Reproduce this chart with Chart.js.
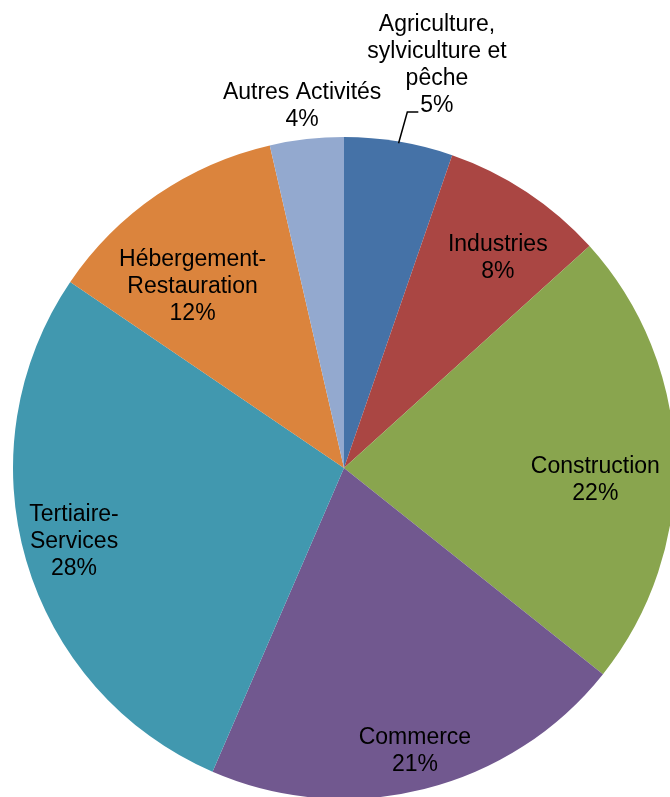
<!DOCTYPE html>
<html lang="fr">
<head>
<meta charset="utf-8">
<title>Répartition par secteur d'activité</title>
<script src="https://cdn.jsdelivr.net/npm/chart.js@4/dist/chart.umd.min.js"></script>
<style>
  html, body { margin: 0; padding: 0; background: #ffffff; }
  #wrap { position: relative; width: 670px; height: 797px; overflow: hidden; }
  canvas { display: block; }
</style>
</head>
<body>
<div id="wrap"><canvas id="pie" width="670" height="797"></canvas></div>
<script>
// Sectors, each given as the lines its label is printed on
const sectors = [
  ['Agriculture,', 'sylviculture et', 'pêche'],
  ['Industries'],
  ['Construction'],
  ['Commerce'],
  ['Tertiaire-', 'Services'],
  ['Hébergement-', 'Restauration'],
  ['Autres Activités']
];

// Share of each sector (%)
const shares = [5.3, 8.0, 22.4, 20.8, 28.0, 11.9, 3.6];

const sliceColors = ['#4572A7', '#AA4643', '#89A54E', '#71588F', '#4198AF', '#DB843D', '#93A9CF'];

// Where each label block sits: fraction of the radius along the slice's
// middle angle, and a small angular nudge in degrees (clockwise)
const labelPlacement = [
  { f: 1.254, d: 3.4, leader: true },
  { f: 0.789, d: 2.6 },
  { f: 0.760, d: 4.2 },
  { f: 0.877, d: -0.1 },
  { f: 0.844, d: 1.3 },
  { f: 0.718, d: -5.2 },
  { f: 1.104, d: -0.1 }
];

const FONT_SIZE = 23;
const LINE_GAP = 27;

const sliceLabels = {
  id: 'sliceLabels',
  afterDatasetsDraw(chart) {
    const ctx = chart.ctx;
    const meta = chart.getDatasetMeta(0);
    const values = chart.data.datasets[0].data;
    const total = values.reduce((a, b) => a + b, 0);
    ctx.save();
    ctx.font = FONT_SIZE + 'px "Liberation Sans", Arial, sans-serif';
    ctx.fillStyle = '#000000';
    ctx.textAlign = 'center';
    ctx.textBaseline = 'alphabetic';
    meta.data.forEach((arc, i) => {
      const p = arc.getProps(['x', 'y', 'startAngle', 'endAngle', 'outerRadius'], true);
      const mid = (p.startAngle + p.endAngle) / 2;
      const place = labelPlacement[i];
      const a = mid + place.d * Math.PI / 180;
      const cx = p.x + Math.cos(a) * p.outerRadius * place.f;
      const cy = p.y + Math.sin(a) * p.outerRadius * place.f;
      const lines = chart.data.labels[i].concat([Math.round(values[i] / total * 100) + '%']);
      const n = lines.length;
      const baselines = lines.map((_, k) => cy + (k - (n - 1) / 2) * LINE_GAP + 8);
      lines.forEach((t, k) => ctx.fillText(t, cx, baselines[k]));

      if (place.leader) {
        const last = lines[n - 1];
        const w = ctx.measureText(last).width;
        const textLeft = cx - w / 2;
        const yEnd = baselines[n - 1];
        const sx = p.x + Math.cos(mid) * p.outerRadius * 0.995;
        const sy = p.y + Math.sin(mid) * p.outerRadius * 0.995;
        ctx.beginPath();
        ctx.strokeStyle = '#000000';
        ctx.lineWidth = 1.5;
        ctx.moveTo(sx, sy);
        ctx.lineTo(textLeft - 13, yEnd);
        ctx.lineTo(textLeft - 2, yEnd);
        ctx.stroke();
      }
    });
    ctx.restore();
  }
};

new Chart(document.getElementById('pie'), {
  type: 'pie',
  data: {
    labels: sectors,
    datasets: [{
      data: shares,
      backgroundColor: sliceColors,
      borderWidth: 0,
      radius: 331
    }]
  },
  options: {
    responsive: false,
    animation: false,
    layout: { padding: { left: 18, right: 0, top: 139, bottom: 0 } },
    plugins: {
      legend: { display: false },
      tooltip: { enabled: false }
    }
  },
  plugins: [sliceLabels]
});
</script>
</body>
</html>
